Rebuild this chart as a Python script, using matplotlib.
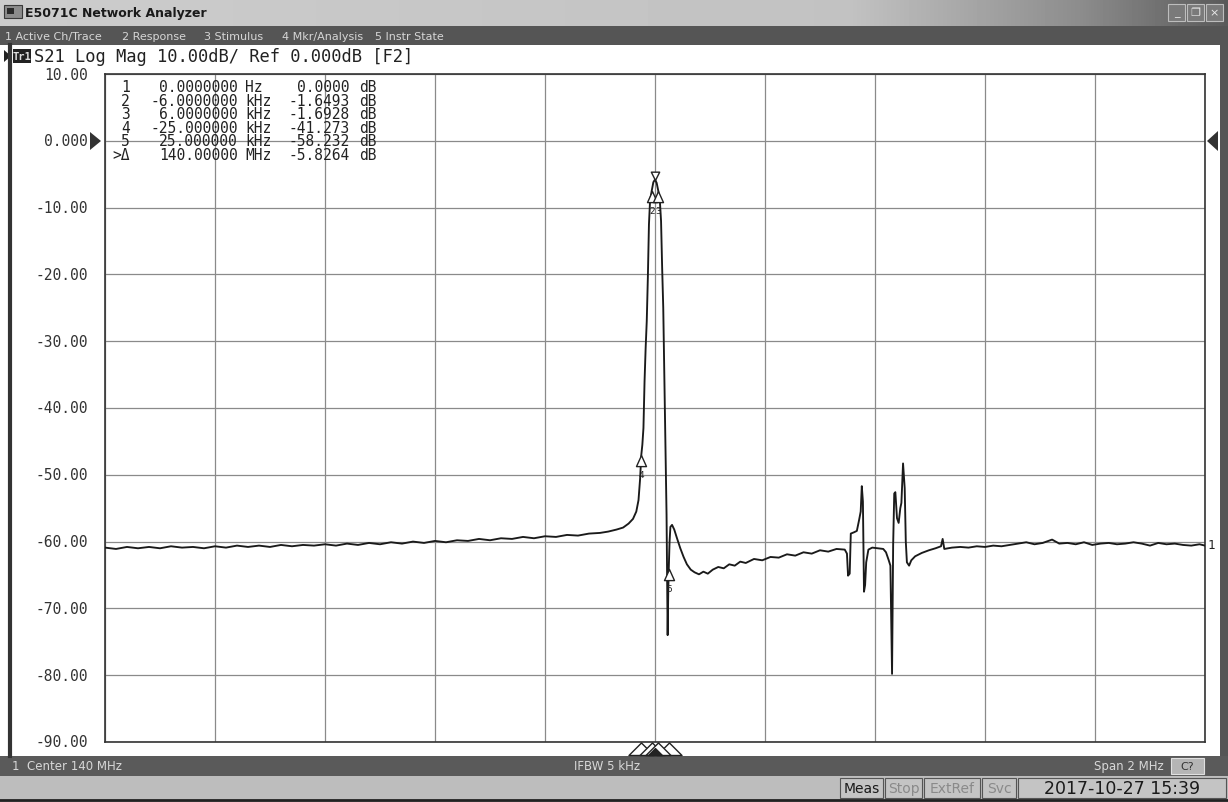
import numpy as np
import matplotlib.pyplot as plt
from matplotlib.path import Path
from matplotlib.patches import Rectangle, Polygon

# S21 trace: offset from 140 MHz centre (kHz) and level (dB)
freq_khz = [-1000, -980, -960, -940, -920, -900, -880, -860, -840, -820,
            -800, -780, -760, -740, -720, -700, -680, -660, -640, -620,
            -600, -580, -560, -540, -520, -500, -480, -460, -440, -420,
            -400, -380, -360, -340, -320, -300, -280, -260, -240, -220,
            -200, -180, -160, -140, -120, -100, -85, -70, -58, -48,
            -40, -34, -30, -27, -25, -23, -21, -19, -17, -15,
            -13, -11, -9, -6, -3, 0, 3, 6, 9, 11,
            13, 15, 16.5, 18, 19.5, 21, 22, 23, 24, 25,
            26.5, 28, 31, 35, 40, 46, 52, 58, 65, 72,
            80, 88, 96, 105, 115, 125, 135, 145, 155, 165,
            180, 195, 210, 225, 240, 255, 270, 285, 300, 315,
            330, 345, 349, 351, 354, 356, 362, 367, 371, 374,
            376, 378, 380, 382, 384, 388, 395, 405, 415, 420,
            425, 428, 431, 433, 435, 437, 440, 443, 446, 448,
            451, 454, 456, 458, 462, 466, 473, 485, 498, 510,
            520, 523, 526, 540, 555, 570, 585, 600, 615, 630,
            645, 660, 675, 690, 705, 722, 735, 750, 765, 780,
            795, 810, 825, 840, 855, 870, 885, 900, 915, 930,
            945, 960, 975, 990, 1000]
s21_db = [-60.9, -61.1, -60.8, -61.0, -60.8, -61.0, -60.7, -60.9, -60.8, -61.0,
          -60.7, -60.9, -60.6, -60.8, -60.6, -60.8, -60.5, -60.7, -60.5, -60.6,
          -60.4, -60.6, -60.3, -60.5, -60.2, -60.4, -60.1, -60.3, -60.0, -60.2,
          -59.9, -60.1, -59.8, -59.9, -59.6, -59.8, -59.5, -59.6, -59.3, -59.5,
          -59.2, -59.3, -59.0, -59.1, -58.8, -58.7, -58.5, -58.2, -57.9, -57.3,
          -56.6, -55.5, -53.8, -50.5, -47.1, -45.5, -43.0, -36.0, -31.0, -27.0,
          -20.5, -12.5, -9.0, -7.5, -6.2, -5.8, -6.3, -7.5, -9.2, -12.0,
          -19.0, -25.0, -33.0, -42.0, -50.0, -56.0, -66.0, -74.0, -68.0, -64.1,
          -60.0, -57.8, -57.5, -58.2, -59.5, -61.0, -62.3, -63.4, -64.2, -64.6,
          -64.9, -64.5, -64.8, -64.2, -63.8, -64.0, -63.4, -63.6, -63.0, -63.2,
          -62.6, -62.8, -62.3, -62.4, -61.9, -62.1, -61.6, -61.8, -61.3, -61.5,
          -61.1, -61.2, -61.8, -65.1, -64.8, -58.8, -58.6, -58.4, -56.8, -55.5,
          -51.7, -54.0, -67.5, -66.5, -63.1, -61.2, -60.9, -61.0, -61.1, -61.6,
          -62.8, -63.6, -79.8, -60.5, -52.8, -52.6, -56.5, -57.2, -55.0, -54.2,
          -48.3, -52.0, -60.0, -63.1, -63.6, -62.8, -62.2, -61.7, -61.3, -61.0,
          -60.7, -59.6, -61.1, -60.9, -60.8, -60.9, -60.7, -60.8, -60.6, -60.7,
          -60.5, -60.3, -60.1, -60.4, -60.2, -59.7, -60.3, -60.2, -60.4, -60.1,
          -60.5, -60.3, -60.2, -60.4, -60.3, -60.1, -60.3, -60.6, -60.2, -60.4,
          -60.3, -60.5, -60.6, -60.4, -60.6]

# markers: offset (kHz) and absolute level (dB)
mkr_khz = [0, -6, 6, -25, 25]
mkr_db = [-5.83, -7.48, -7.52, -47.10, -64.06]
mkr_names = ["1", "2", "3", "4", "5"]

# marker readout table
tbl_idx = ["1", "2", "3", "4", "5", ">\u0394"]
tbl_freq = ["0.0000000", "-6.0000000", "6.0000000", "-25.000000", "25.000000", "140.00000"]
tbl_unit = ["Hz", "kHz", "kHz", "kHz", "kHz", "MHz"]
tbl_val = ["0.0000", "-1.6493", "-1.6928", "-41.273", "-58.232", "-5.8264"]

y_ticks = [10, 0, -10, -20, -30, -40, -50, -60, -70, -80, -90]
y_ticklabels = ["10.00", "0.000", "-10.00", "-20.00", "-30.00", "-40.00",
                "-50.00", "-60.00", "-70.00", "-80.00", "-90.00"]

menu_items = ["1 Active Ch/Trace", "2 Response", "3 Stimulus", "4 Mkr/Analysis", "5 Instr State"]

W, H = 1228, 803
L, R, T, B = 105, 1205, 75, 743
MONO = 'DejaVu Sans Mono'

fig = plt.figure(figsize=(W / 100, H / 100), dpi=100)
fig.patch.set_facecolor('white')

# background / window chrome drawn in pixel coordinates
bg = fig.add_axes([0, 0, 1, 1])
bg.set_xlim(0, W)
bg.set_ylim(H, 0)
bg.axis('off')

# title bar with gradient
grad = np.interp(np.arange(W), [0, 850, 1080, W], [0.80, 0.76, 0.55, 0.35])
bg.imshow(grad[None, :], extent=(0, W, 27, 0), aspect='auto', cmap='gray', vmin=0, vmax=1)
bg.add_patch(Rectangle((4, 6), 18, 13, fc='#8c8c8c', ec='#3a3a3a', lw=0.8))
bg.add_patch(Rectangle((7, 9), 7, 6, fc='#2a2a2a', ec='none'))
bg.text(25, 13, "E5071C Network Analyzer", fontsize=9, fontweight='bold', color='#1a1a1a', va='center')
for bx, sym in [(1168, '_'), (1187, '\u2750'), (1206, '\u00d7')]:
    bg.add_patch(Rectangle((bx, 5), 17, 17, fc='#7a7a7a', ec='#bdbdbd', lw=0.8))
    bg.text(bx + 8.5, 13.5, sym, fontsize=8, color='#e8e8e8', ha='center', va='center')

# menu bar
bg.add_patch(Rectangle((0, 27), W, 19, fc='#555555', ec='none'))
for mx, item in zip([5, 122, 204, 282, 375], menu_items):
    bg.text(mx, 37, item, fontsize=8, color='#d6d6d6', va='center')

# window borders
bg.plot([10, 10], [46, 757], color='#333333', lw=3)
bg.add_patch(Rectangle((1220, 46), 8, 711, fc='#555555', ec='none'))

# trace header
bg.add_patch(Polygon([(4, 51), (4, 63), (11, 57)], closed=True, fc='#222222', ec='none'))
bg.add_patch(Rectangle((13, 50), 18, 14, fc='#222222', ec='none'))
bg.text(22, 57, "Tr1", fontsize=7.5, family=MONO, fontweight='bold', color='#e0e0e0', ha='center', va='center')
bg.text(34, 57, "S21 Log Mag 10.00dB/ Ref 0.000dB [F2]", fontsize=12.3, family=MONO, color='#222222', va='center')

# y labels
for v, lab in zip(y_ticks, y_ticklabels):
    ypix = T + (10 - v) * (B - T) / 100
    bg.text(88, ypix, lab, fontsize=10.5, family=MONO, color='#333333', ha='right', va='center')
# reference level arrows
bg.add_patch(Polygon([(90, 133), (90, 151), (101, 142)], closed=True, fc='#333333', ec='none'))
bg.add_patch(Polygon([(1218, 132), (1218, 152), (1207, 142)], closed=True, fc='#333333', ec='none'))

# status bar
bg.add_patch(Rectangle((0, 757), W, 20, fc='#5a5a5a', ec='none'))
bg.text(12, 767, "1  Center 140 MHz", fontsize=8.5, color='#d8d8d8', va='center')
bg.text(574, 767, "IFBW 5 kHz", fontsize=8.5, color='#d8d8d8', va='center')
bg.text(1164, 767, "Span 2 MHz", fontsize=8.5, color='#d8d8d8', va='center', ha='right')
bg.add_patch(Rectangle((1171, 759), 33, 16, fc='#b5b5b5', ec='#e0e0e0', lw=0.8))
bg.text(1187, 767, "C?", fontsize=8, color='#333333', ha='center', va='center')

# bottom bar
bg.add_patch(Rectangle((0, 777), W, 26, fc='#bdbdbd', ec='none'))
bg.plot([0, W], [801, 801], color='#222222', lw=2)
for x0, x1, txt, col, fs in [(840, 883, "Meas", '#1a1a1a', 10),
                             (885, 922, "Stop", '#8a8a8a', 10),
                             (924, 980, "ExtRef", '#8a8a8a', 10),
                             (982, 1016, "Svc", '#8a8a8a', 10),
                             (1018, 1226, "2017-10-27 15:39", '#1a1a1a', 12.5)]:
    bg.add_patch(Rectangle((x0, 779), x1 - x0, 20, fc='#c4c4c4', ec='#555555', lw=0.8))
    bg.text((x0 + x1) / 2, 789.5, txt, fontsize=fs, color=col, ha='center', va='center')

# plot area
ax = fig.add_axes([L / W, 1 - B / H, (R - L) / W, (B - T) / H])
ax.set_xlim(-1000, 1000)
ax.set_ylim(-90, 10)
ax.set_xticks(np.arange(-1000, 1001, 200))
ax.set_yticks(y_ticks)
ax.tick_params(length=0, labelbottom=False, labelleft=False)
ax.grid(True, color='#8a8a8a', lw=0.9)
for s in ax.spines.values():
    s.set_color('#333333')
    s.set_linewidth(1.2)

ax.plot(freq_khz, s21_db, color='#1a1a1a', lw=1.35, zorder=3)

# marker symbols
hang = Path([(0, 0), (-0.45, -1), (0.45, -1), (0, 0)],
            [Path.MOVETO, Path.LINETO, Path.LINETO, Path.CLOSEPOLY])
above = Path([(0, 0), (-0.5, 1), (0.5, 1), (0, 0)],
             [Path.MOVETO, Path.LINETO, Path.LINETO, Path.CLOSEPOLY])
base = Path([(-1, 0), (1, 0), (0, 1), (-1, 0)],
            [Path.MOVETO, Path.LINETO, Path.LINETO, Path.CLOSEPOLY])

ax.plot(mkr_khz[1:], mkr_db[1:], ls='none', marker=hang, ms=16, mfc='white',
        mec='#222222', mew=1, zorder=4)
ax.plot(mkr_khz[:1], mkr_db[:1], ls='none', marker=above, ms=12, mfc='white',
        mec='#222222', mew=1, zorder=4)
for fk, db, nm in zip(mkr_khz[1:], mkr_db[1:], mkr_names[1:]):
    ax.annotate(nm, (fk, db), xytext=(0, -14), textcoords='offset points',
                fontsize=6.5, ha='center', va='center', color='#222222', zorder=5)
ax.text(1.002, -60.4, "1", transform=ax.get_yaxis_transform(), fontsize=9,
        family=MONO, color='#222222', va='center', ha='left')

# stimulus markers below the graticule
y_base = -90 - 12.5 / ((B - T) / 100)
for fk in [-25, 25, -6, 6]:
    ax.plot([fk], [y_base], marker=base, ms=18, mfc='white', mec='#222222',
            mew=1, clip_on=False, zorder=5)
ax.plot([0], [y_base], marker=base, ms=10, mfc='#222222', mec='#222222',
        clip_on=False, zorder=6)

# marker readout table
for i in range(len(tbl_idx)):
    ypix = 88 + i * 13.4
    yv = 10 - (ypix - T) * 100 / (B - T)
    tr = ax.get_yaxis_transform()
    kw = dict(fontsize=10.5, family=MONO, color='#222222', va='center', transform=tr, zorder=6)
    ax.text((130 - L) / (R - L), yv, tbl_idx[i], ha='right', **kw)
    ax.text((238 - L) / (R - L), yv, tbl_freq[i], ha='right', **kw)
    ax.text((245 - L) / (R - L), yv, tbl_unit[i], ha='left', **kw)
    ax.text((350 - L) / (R - L), yv, tbl_val[i], ha='right', **kw)
    ax.text((359 - L) / (R - L), yv, "dB", ha='left', **kw)

fig.savefig("out.png", dpi=100)
plt.close(fig)
